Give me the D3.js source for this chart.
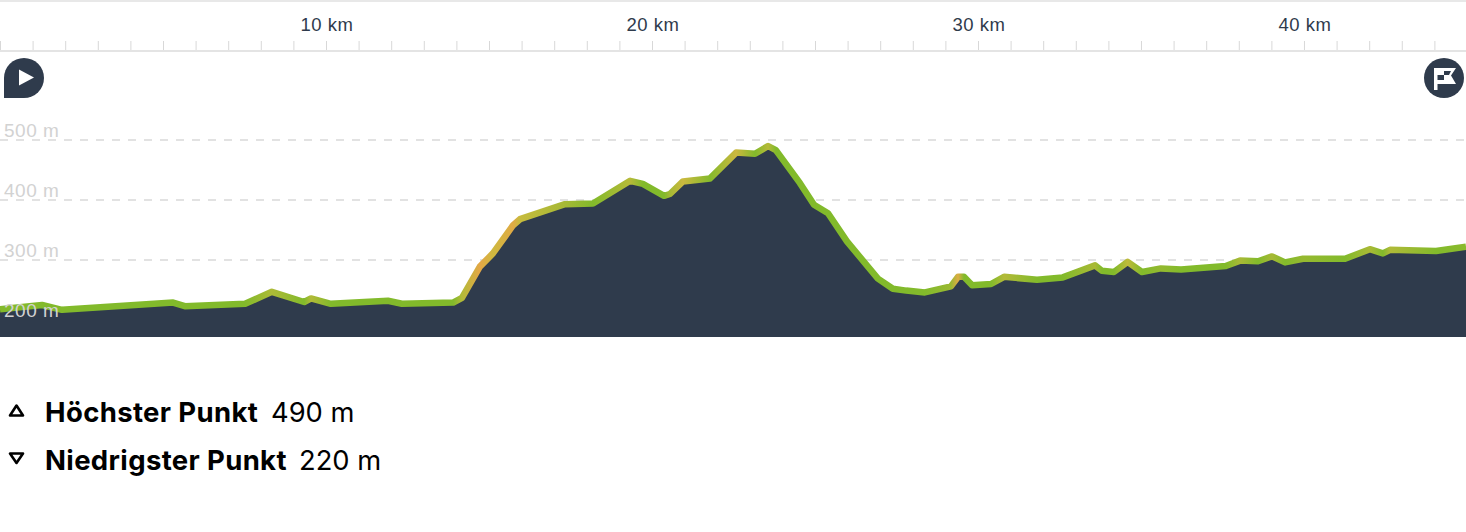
<!DOCTYPE html>
<html>
<head>
<meta charset="utf-8">
<script src="https://cdnjs.cloudflare.com/ajax/libs/d3/7.8.5/d3.min.js"></script>
<style>
  html, body { margin: 0; padding: 0; background: #fff; }
  svg { display: block; }
  text { font-family: "Liberation Sans", sans-serif; }
</style>
</head>
<body>
<div id="wrapper"></div>
<script>
// elevation profile
const distanceKm = [0, 1.29, 1.9, 5.31, 5.67, 7.52, 8.34, 9.33, 9.54, 10.15, 11.9, 12.33, 13.9, 14.17, 14.72, 15.12, 15.74, 15.95, 17.33, 18.19, 19.33, 19.72, 20.37, 20.55, 20.95, 21.78, 22.58, 23.16, 23.56, 23.8, 24.54, 24.97, 25.4, 25.98, 26.93, 27.39, 27.8, 28.37, 29.17, 29.39, 29.57, 29.82, 30.4, 30.8, 31.81, 32.6, 33.59, 33.8, 34.17, 34.59, 35.03, 35.61, 36.23, 37.6, 38.04, 38.59, 39.02, 39.42, 39.97, 41.26, 42.02, 42.42, 42.64, 44.05, 44.97]
const elevationM = [218, 225, 217, 229, 223, 227, 247, 230, 236, 227, 232, 227, 229, 237, 289, 311, 358, 368, 393, 394, 432, 427, 407, 410, 431, 436, 479, 477, 490, 483, 428, 392, 378, 331, 269, 252, 249, 246, 256, 272, 272, 258, 260, 272, 267, 271, 291, 282, 280, 297, 280, 286, 284, 290, 299, 298, 306, 296, 302, 302, 318, 311, 317, 315, 322]

const kmLabels = [10, 20, 30, 40]
const elevationTicks = [200, 300, 400, 500]
const summaryLabels = ["Höchster Punkt", "Niedrigster Punkt"]
const summaryValues = ["490 m", "220 m"]

const points = distanceKm.map((d, i) => ({ km: d, m: elevationM[i] }))

const width = 1466
const height = 532
const dark = "#2f3b4c"

const x = d3.scaleLinear().domain([0, 44.97]).range([0, width])
const y = d3.scaleLinear().domain([200, 500]).range([320, 140])
const bottom = 337

// uphill grade in percent picks the line colour
const gradeColor = d3.scaleLinear()
  .domain([0.5, 1.5, 5, 8])
  .range(["#82ba2b", "#a3b934", "#c9bb3e", "#e4a746"])
  .clamp(true)

const wrapper = d3.select("#wrapper")
  .append("svg")
    .attr("width", width)
    .attr("height", height)

const stops = d3.pairs(points).map(([a, b]) => ({
  offset: b.km / 44.97,
  color: gradeColor((b.m - a.m) / (b.km - a.km) / 10)
}))

wrapper.append("defs").append("linearGradient")
    .attr("id", "grade")
    .attr("gradientUnits", "userSpaceOnUse")
    .attr("x1", 0)
    .attr("x2", width)
    .attr("y1", 0)
    .attr("y2", 0)
  .selectAll("stop")
  .data(stops)
  .enter().append("stop")
    .attr("offset", d => d.offset)
    .attr("stop-color", d => d.color)

// top border
wrapper.append("rect")
    .attr("width", width)
    .attr("height", 2)
    .attr("fill", "#e8e8e8")

// km ruler
const ruler = wrapper.append("g")
  .attr("transform", "translate(0, 51)")

ruler.call(d3.axisTop(x)
    .tickValues(d3.range(0, 45))
    .tickSize(10)
    .tickFormat(""))
ruler.select(".domain").remove()
ruler.selectAll("line")
    .attr("stroke", "#d8d8d8")
    .attr("stroke-width", 1)

wrapper.append("rect")
    .attr("y", 50)
    .attr("width", width)
    .attr("height", 2)
    .attr("fill", "#e4e4e4")

wrapper.selectAll(".km-label")
  .data(kmLabels)
  .enter().append("text")
    .attr("class", "km-label")
    .attr("x", d => x(d) + 1)
    .attr("y", 31)
    .attr("text-anchor", "middle")
    .attr("font-size", 18.5)
    .attr("letter-spacing", 0.5)
    .attr("fill", dark)
    .text(d => d + " km")

// grid lines
wrapper.selectAll(".grid")
  .data(elevationTicks)
  .enter().append("line")
    .attr("class", "grid")
    .attr("x1", 0)
    .attr("x2", width)
    .attr("y1", d => y(d))
    .attr("y2", d => y(d))
    .attr("stroke", "#e2e2e2")
    .attr("stroke-width", 2)
    .attr("stroke-dasharray", "8 8")

// profile
const area = d3.area()
  .x(d => x(d.km))
  .y0(bottom)
  .y1(d => y(d.m))

const line = d3.line()
  .x(d => x(d.km))
  .y(d => y(d.m))

wrapper.append("path")
    .datum(points)
    .attr("d", area)
    .attr("fill", dark)

wrapper.append("path")
    .datum(points)
    .attr("d", line)
    .attr("fill", "none")
    .attr("stroke", "url(#grade)")
    .attr("stroke-width", 6.5)
    .attr("stroke-linejoin", "round")

wrapper.selectAll(".elevation-label")
  .data(elevationTicks)
  .enter().append("text")
    .attr("class", "elevation-label")
    .attr("x", 4)
    .attr("y", d => y(d) - 3)
    .attr("font-size", 19)
    .attr("letter-spacing", 0.5)
    .attr("fill", "#d2d2d2")
    .text(d => d + " m")

// start marker
wrapper.append("path")
    .attr("d", "M4 98V78A20 20 0 1 1 24 98Z")
    .attr("fill", dark)
wrapper.append("path")
    .attr("d", "M19 69.5L34 77.5L19 85.5Z")
    .attr("fill", "#fff")

// finish marker
wrapper.append("circle")
    .attr("cx", 1444)
    .attr("cy", 78)
    .attr("r", 20)
    .attr("fill", dark)
wrapper.append("path")
    .attr("d", "M1434 68H1456L1451 75.5L1456 84H1437.5V90H1434Z")
    .attr("fill", "#fff")
wrapper.append("path")
    .attr("d", "M1444 71H1451L1449 75H1444ZM1437.5 75H1444V80H1437.5Z")
    .attr("fill", dark)

// summary rows
const rows = wrapper.selectAll(".summary")
  .data(summaryLabels)
  .enter().append("g")
    .attr("class", "summary")
    .attr("transform", (d, i) => `translate(0, ${422 + i * 48})`)

rows.append("text")
    .attr("x", 45)
    .attr("font-size", 27.5)
    .attr("font-weight", 700)
    .attr("letter-spacing", 0.36)
    .style("font-family", "Inter")
    .attr("fill", "#000")
    .text(d => d)

rows.append("text")
    .attr("x", (d, i) => [271, 299][i])
    .attr("font-size", 27.3)
    .style("font-family", "Inter")
    .attr("fill", "#000")
    .text((d, i) => summaryValues[i])

rows.append("path")
    .attr("d", (d, i) => i === 0 ? "M16.5 -16.5L23 -6.5H10Z" : "M10 -16.5H23L16.5 -7Z")
    .attr("fill", "none")
    .attr("stroke", "#000")
    .attr("stroke-width", 2.6)
    .attr("stroke-linejoin", "round")
</script>
</body>
</html>
